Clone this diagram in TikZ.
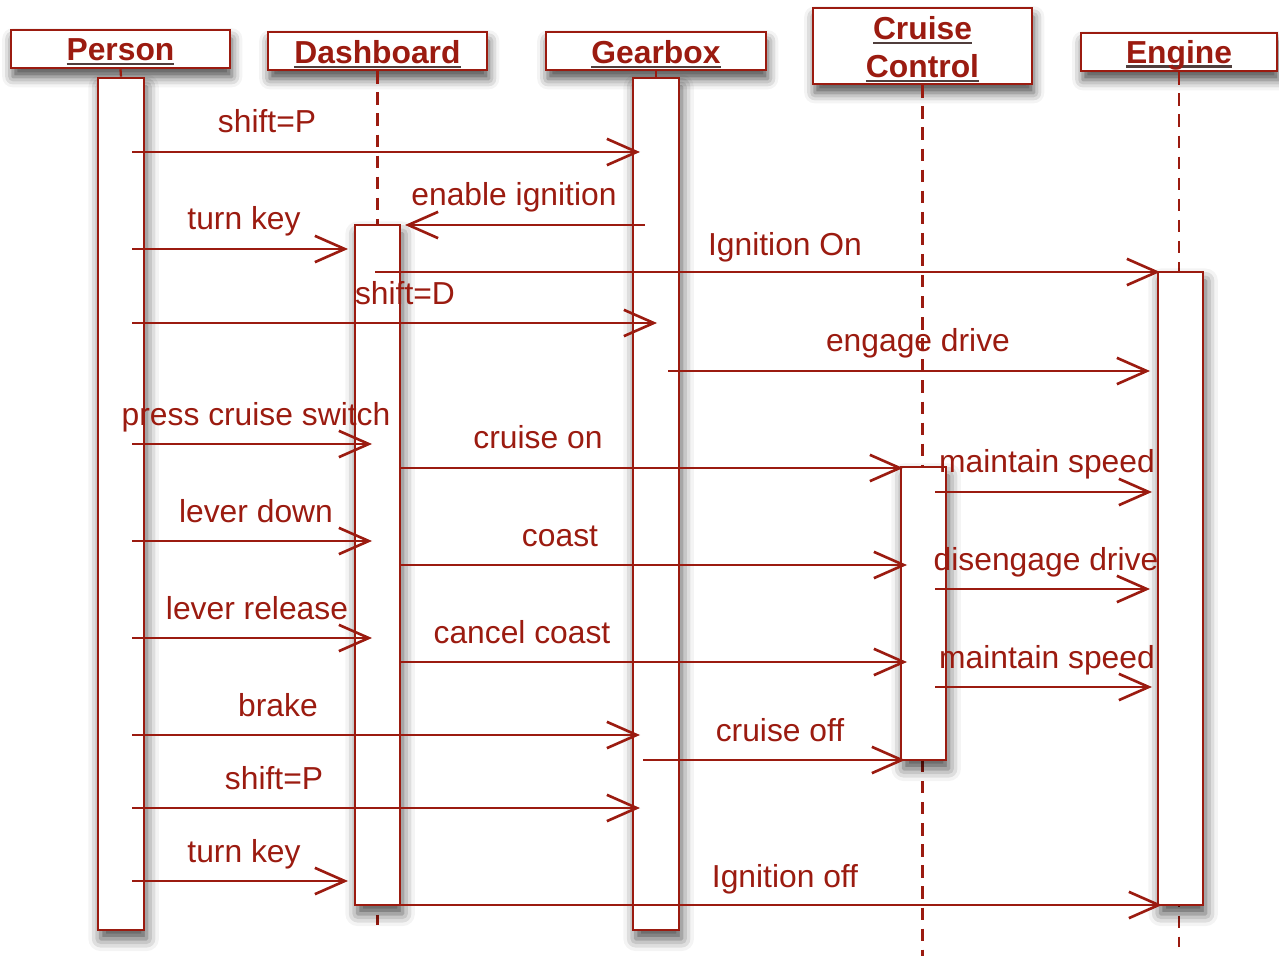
\documentclass[tikz,border=0pt]{standalone}
\usepackage{fontspec}
\setmainfont{Liberation Sans}
\usetikzlibrary{arrows.meta,fit,shadows.blur}
\definecolor{seqred}{RGB}{155,27,16}
\definecolor{ulgray}{RGB}{80,62,60}
% underlined participant name, kept in one box
\newcommand\hdr[1]{\hbox{\setbox0\hbox{#1}\rlap{\textcolor{ulgray}{\rule[-2.4pt]{\wd0}{1.2pt}}}\box0}}
\begin{document}
\begin{tikzpicture}[x=0.02cm,y=-0.02cm,
  font=\fontsize{18.1}{21.7}\selectfont,
  headbox/.style={draw=seqred, line width=1.5pt, fill=white, inner sep=0pt,
    blur shadow={shadow xshift=1pt, shadow yshift=-5pt, shadow blur radius=6pt, shadow opacity=70}},
  headtext/.style={text=seqred, inner sep=0pt, align=center, yshift=-1.8pt,
    font=\fontsize{18.1}{21.5}\selectfont\bfseries},
  actbox/.style={draw=seqred, line width=1.5pt, fill=white, inner sep=0pt,
    blur shadow={shadow xshift=1.5pt, shadow yshift=-5pt, shadow blur radius=7pt, shadow opacity=70}},
  solidlife/.style={draw=seqred, line width=1.3pt},
  life/.style={draw=seqred, line width=1.3pt, dash pattern=on 7pt off 5pt},
  msg/.style={draw=seqred, line width=1.5pt, -{Straight Barb[length=17pt,width=15pt,line width=1.5pt]}},
  lbl/.style={text=seqred, anchor=base, inner sep=0pt}]
\useasboundingbox (0,0) rectangle (1279,956);

% participants
\node[headbox, fit={(11,30)(230,68)}] (hP) {};
\node[headbox, fit={(268,32)(487,70)}] (hD) {};
\node[headbox, fit={(546,32)(766,70)}] (hG) {};
\node[headbox, fit={(813,8)(1032,84)}] (hC) {};
\node[headbox, fit={(1081,33)(1277,71)}] (hE) {};
\node[headtext] (tP) at (hP.center) {\hdr{Person}};
\node[headtext] (tD) at (hD.center) {\hdr{Dashboard}};
\node[headtext] (tG) at (hG.center) {\hdr{Gearbox}};
\node[headtext] (tC) at (hC.center) {\hdr{Cruise}\\\hdr{Control}};
\node[headtext] (tE) at (hE.center) {\hdr{Engine}};

% lifelines
\coordinate (eD) at (hD.south |- 0,925);
\coordinate (eC) at (hC.south |- 0,956);
\coordinate (eE) at (hE.south |- 0,947);
\draw[life] (hD.south) -- (eD);
\draw[life] (hC.south) -- (eC);
\draw[life] (hE.south) -- (eE);

% activation bars
\node[actbox, fit={(98,78)(144,930)}] (aP) {};
\node[actbox, fit={(633,78)(679,930)}] (aG) {};
\node[actbox, fit={(355,225)(400,905)}] (aD) {};
\node[actbox, fit={(1158,272)(1203,905)}] (aE) {};
\node[actbox, fit={(901,467)(946,760)}] (aC) {};
\draw[solidlife] (hP.south) -- (aP.north);
\draw[solidlife] (hG.south) -- (aG.north);

% messages
\foreach \n/\xa/\xb/\y/\lx/\ly/\txt in {
  1/132/640/152/267/133/shift=P,
  2/645/405/225/514/206/enable ignition,
  3/132/348/249/244/230/turn key,
  4/375/1160/272/785/256/Ignition On,
  5/132/657/323/405/305/shift=D,
  6/668/1150/371/918/352/engage drive,
  7/132/372/444/256/425/press cruise switch,
  8/400/903/468/538/449/cruise on,
  9/935/1152/492/1047/473/maintain speed,
  10/132/372/541/256/522/lever down,
  11/400/907/565/560/546/coast,
  12/935/1150/589/1046/570/disengage drive,
  13/132/372/638/257/619/lever release,
  14/400/907/662/522/643/cancel coast,
  15/935/1152/687/1047/668/maintain speed,
  16/132/640/735/278/716/brake,
  17/643/905/760/780/741/cruise off,
  18/132/640/808/274/789/shift=P,
  19/132/348/881/244/862/turn key,
  20/400/1162/905/785/887/Ignition off}{
  \coordinate (m\n a) at (\xa,\y);
  \coordinate (m\n b) at (\xb,\y);
  \draw[msg] (m\n a) -- (m\n b);
  \node[lbl] (l\n) at (\lx,\ly) {\txt};
}
\end{tikzpicture}
\end{document}
